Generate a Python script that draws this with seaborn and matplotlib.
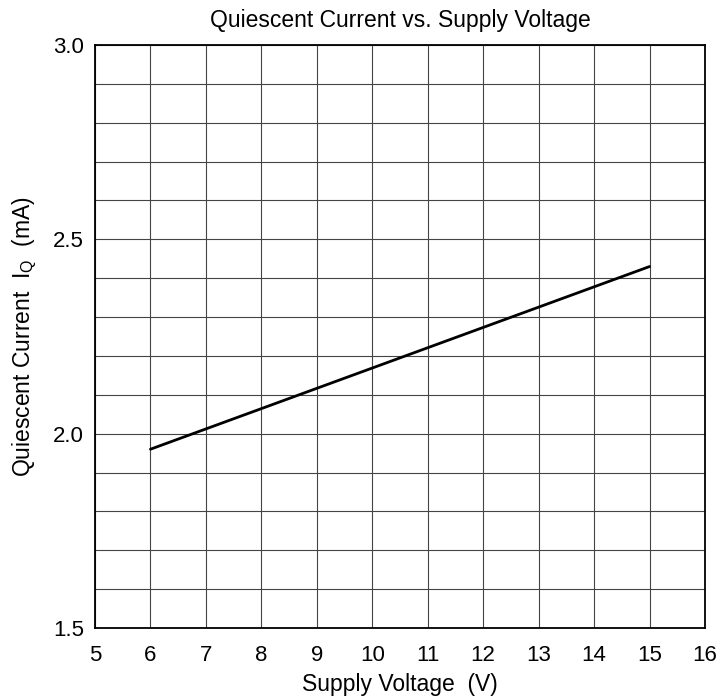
import pandas as pd
import matplotlib.pyplot as plt
import seaborn as sns
from matplotlib.ticker import MultipleLocator

# supply voltage (V) and quiescent current (mA)
supply_v = [6, 15]
iq_ma = [1.96, 2.43]

x_ticks = list(range(5, 17))
y_ticks = [1.5, 2.0, 2.5, 3.0]

sns.set_style("white")
plt.rcParams["font.family"] = ["Liberation Sans", "DejaVu Sans"]
plt.rcParams["mathtext.fontset"] = "custom"
plt.rcParams["mathtext.rm"] = "Liberation Sans"

df = pd.DataFrame({"V": supply_v, "IQ": iq_ma})

fig = plt.figure(figsize=(7.22, 7.0), dpi=100)
ax = fig.add_axes([95 / 722, 1 - 628 / 700, 610 / 722, 583 / 700])

sns.lineplot(data=df, x="V", y="IQ", color="black", linewidth=2, ax=ax)

ax.set_xlim(5, 16)
ax.set_ylim(1.5, 3.0)
ax.set_xticks(x_ticks)
ax.set_yticks(y_ticks)
ax.set_yticklabels([f"{v:.1f}" for v in y_ticks])
ax.yaxis.set_minor_locator(MultipleLocator(0.1))
ax.grid(which="both", color="#444444", linewidth=0.8)
ax.set_axisbelow(True)
ax.tick_params(which="both", length=0, labelsize=16, labelcolor="black")
ax.tick_params(axis="x", pad=12)
ax.tick_params(axis="y", pad=8)
for s in ax.spines.values():
    s.set_color("black")
    s.set_linewidth(1.3)

ax.set_title("Quiescent Current vs. Supply Voltage", fontsize=16.5, pad=13, color="black")
ax.set_xlabel("Supply Voltage  (V)", fontsize=16.5, labelpad=5, color="black")
ax.set_ylabel("Quiescent Current  I$_\\mathregular{Q}$  (mA)", fontsize=16.5, labelpad=10, color="black")

fig.savefig("out.png", dpi=100)
